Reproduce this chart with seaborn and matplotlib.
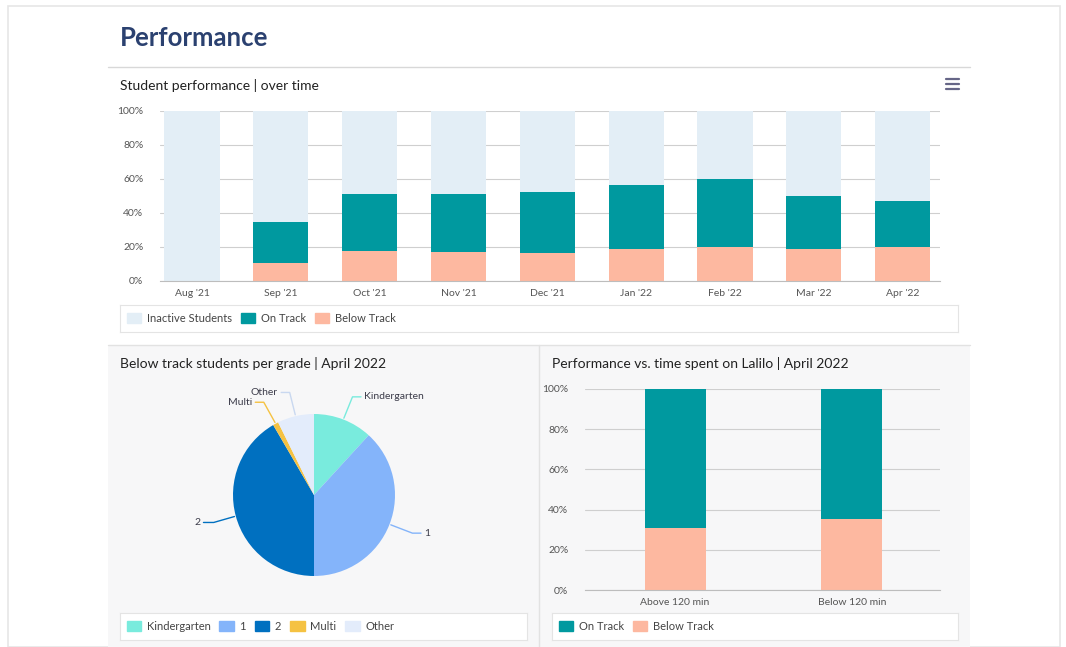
import matplotlib.pyplot as plt
import matplotlib.patches as mpatches
import matplotlib.lines as mlines
import numpy as np
import pandas as pd
import seaborn as sns

# data
months = ["Aug '21", "Sep '21", "Oct '21", "Nov '21", "Dec '21", "Jan '22", "Feb '22", "Mar '22", "Apr '22"]
below_track = [0, 10.4, 17.5, 17.3, 16.7, 18.6, 19.8, 18.8, 19.8]
on_track = [0, 24.5, 33.5, 34.1, 35.7, 37.9, 40.0, 31.2, 27.1]

grades = ["Kindergarten", "1", "2", "Multi", "Other"]
grade_share = [11.8, 38.2, 41.6, 1.1, 7.3]

time_groups = ["Above 120 min", "Below 120 min"]
time_below = [31.0, 35.3]

c_inactive = "#e3eef6"
c_on = "#00999f"
c_below = "#fdb8a0"
grade_colors = ["#79ebdd", "#84b4fa", "#0070c0", "#f5c242", "#e3ecfb"]
txt = "#3c3c4a"

sns.set_style("white")
plt.rcParams['font.family'] = ['Lato', 'DejaVu Sans']

W, H = 1066, 647
fig = plt.figure(figsize=(W / 100, H / 100), dpi=100, facecolor="white")


def box(x0, y0, x1, y1):
    # pixel box (top-left origin) -> figure fraction rect
    return [x0 / W, 1 - y1 / H, (x1 - x0) / W, (y1 - y0) / H]


def hline(x0, x1, y, color, lw=1):
    fig.lines.append(mlines.Line2D([x0 / W, x1 / W], [1 - y / H] * 2, transform=fig.transFigure, color=color, lw=lw))


# page card + panels
fig.patches.append(mpatches.Rectangle((8 / W, 0), 1052 / W, 1 - 6 / H, transform=fig.transFigure,
                                      facecolor="white", edgecolor="#e6e6e6", lw=1.2, zorder=-3))
fig.patches.append(mpatches.Rectangle((108 / W, 0), 862 / W, 1 - 345 / H, transform=fig.transFigure,
                                      facecolor="#f7f7f8", edgecolor="none", zorder=-2))
hline(108, 970, 67, "#d8d8d8")
hline(108, 970, 345, "#e2e2e2")
fig.lines.append(mlines.Line2D([539 / W, 539 / W], [0, 1 - 345 / H], transform=fig.transFigure, color="#e2e2e2", lw=1))

# menu icon
for yy in (79, 84, 89):
    hline(946, 959, yy, "#666687", lw=1.6)

fig.text(120 / W, 1 - 38 / H, "Performance", fontsize=18.5, fontweight="bold", color="#2b4170", va="center")
fig.text(120 / W, 1 - 86 / H, "Student performance | over time", fontsize=10, color="#222222", va="center")
fig.text(120 / W, 1 - 363 / H, "Below track students per grade | April 2022", fontsize=10, color="#222222", va="center")
fig.text(552 / W, 1 - 363 / H, "Performance vs. time spent on Lalilo | April 2022", fontsize=10, color="#222222", va="center")


def style_bar_axes(ax, xlim):
    ax.set_ylim(0, 100)
    ax.set_xlim(*xlim)
    ax.set_yticks([0, 20, 40, 60, 80, 100])
    ax.set_yticklabels([f"{v}%" for v in [0, 20, 40, 60, 80, 100]])
    ax.yaxis.grid(True, color="#cfcfcf", lw=0.8)
    ax.set_axisbelow(True)
    for s in ["left", "right", "top"]:
        ax.spines[s].set_visible(False)
    ax.spines["bottom"].set_color("#bdbdbd")
    ax.tick_params(axis="y", length=0, pad=12, labelsize=7.5, labelcolor="#555555")
    ax.tick_params(axis="x", length=3, color="#bdbdbd", pad=3, labelsize=7.5, labelcolor="#555555")
    ax.set_xlabel("")
    ax.set_ylabel("")
    ax.patch.set_alpha(0)


def legend_box(rect, handles, labels, face="white"):
    lax = fig.add_axes(rect)
    lax.set_xticks([])
    lax.set_yticks([])
    lax.set_facecolor(face)
    for s in lax.spines.values():
        s.set_color("#e4e4e4")
    lax.legend(handles, labels, loc="center left", ncol=len(labels), frameon=False,
               fontsize=8, labelcolor="#444444", handlelength=1.3, handleheight=1.0,
               handletextpad=0.5, columnspacing=0.8, borderaxespad=0.2)


# top stacked bars
df = pd.DataFrame({"month": months, "below": below_track, "on": on_track})
df["on_cum"] = df["below"] + df["on"]
df["total"] = 100.0

ax1 = fig.add_axes(box(160, 111, 940, 281))
for col, c in [("total", c_inactive), ("on_cum", c_on), ("below", c_below)]:
    sns.barplot(data=df, x="month", y=col, color=c, saturation=1, width=0.62, linewidth=0, ax=ax1)
style_bar_axes(ax1, (-0.36, 8.42))

legend_box(box(120, 305, 958, 332),
           [mpatches.Patch(color=c_inactive), mpatches.Patch(color=c_on), mpatches.Patch(color=c_below)],
           ["Inactive Students", "On Track", "Below Track"])

# pie
R = 81
lim = 1.6
side = 2 * lim * R
cx, cy = 314, 495
ax2 = fig.add_axes(box(cx - side / 2, cy - side / 2, cx + side / 2, cy + side / 2))
wedges, _ = ax2.pie(grade_share, colors=grade_colors, startangle=90, counterclock=False,
                    wedgeprops=dict(linewidth=0))
ax2.set_xlim(-lim, lim)
ax2.set_ylim(-lim, lim)
ax2.set_aspect("equal")
ax2.axis("off")
for w, lab, col in zip(wedges, grades, grade_colors):
    ang = np.deg2rad((w.theta1 + w.theta2) / 2)
    x, y = np.cos(ang), np.sin(ang)
    side_sign = 1 if x >= 0 else -1
    lc = col if col != grade_colors[-1] else "#c9d8f0"
    ax2.annotate(lab, xy=(x, y), xytext=(1.3 * x + 0.15 * side_sign, 1.3 * y),
                 ha="left" if side_sign > 0 else "right", va="center", fontsize=7.5, color=txt,
                 arrowprops=dict(arrowstyle="-", color=lc, lw=1, shrinkA=0, shrinkB=1,
                                 connectionstyle="angle,angleA=0,angleB=%d" % int(np.rad2deg(ang))))

legend_box(box(120, 613, 527, 640), [mpatches.Patch(color=c) for c in grade_colors], grades)

# bottom right stacked bars
df2 = pd.DataFrame({"group": time_groups, "below": time_below})
df2["total"] = 100.0
ax3 = fig.add_axes(box(585, 389, 940, 590))
for col, c in [("total", c_on), ("below", c_below)]:
    sns.barplot(data=df2, x="group", y=col, color=c, saturation=1, width=0.345, linewidth=0, ax=ax3)
style_bar_axes(ax3, (-0.51, 1.5))

legend_box(box(552, 613, 958, 640), [mpatches.Patch(color=c_on), mpatches.Patch(color=c_below)],
           ["On Track", "Below Track"])

fig.savefig("out.png", dpi=100, facecolor="white")
